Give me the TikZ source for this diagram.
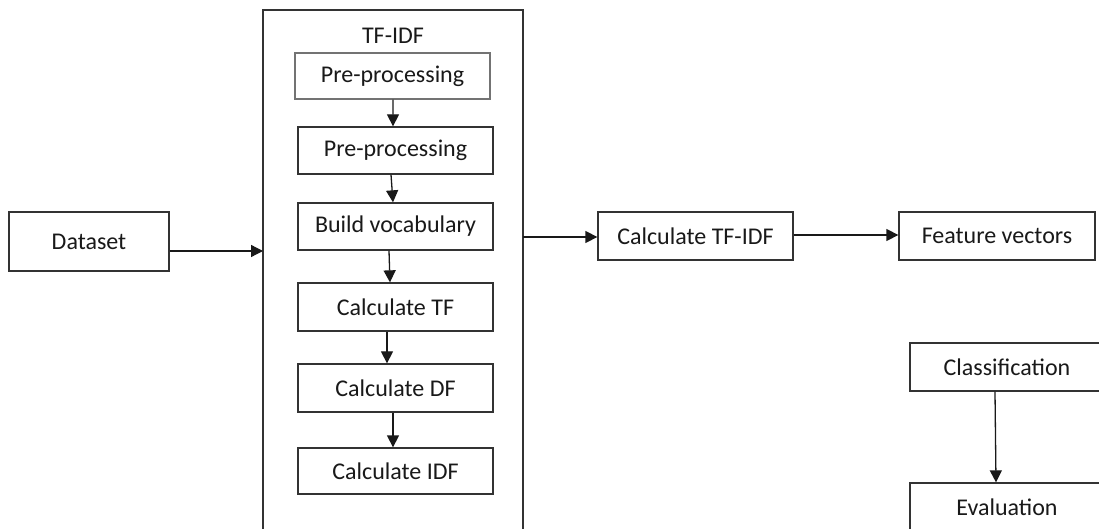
\documentclass[tikz,border=0pt]{standalone}
\usepackage{fontspec}
\setmainfont{Carlito}
\usetikzlibrary{arrows.meta}
\begin{document}
\begin{tikzpicture}[x=1bp,y=-1bp,
  every node/.style={font=\fontsize{24bp}{28bp}\selectfont, text=black!90, inner sep=0pt},
  box/.style={draw=black!80, line width=1.3bp, minimum width=195bp, minimum height=47bp},
  arr/.style={draw=black!90, line width=1.3bp, -{Triangle[length=12bp,width=12bp]}}]
\useasboundingbox (0,0) rectangle (1099,529);
\clip (0,0) rectangle (1099,529);
\fill[white] (0,0) rectangle (1099,529);
% outer TF-IDF frame
\draw[draw=black!80, line width=1.3bp] (263,560) -- (263,10) -- (523,10) -- (523,560);
\coordinate (frameL) at (263,251);
\coordinate (frameR) at (523,237);
\node (title) at (393,36) {TF-IDF};
\node[box, draw=black!55, minimum height=46bp] (pp1) at (392.5,76) {Pre-processing};
\node[box] (pp2) at (395.5,150.5) {Pre-processing};
\node[box] (bv) at (395.5,226.5) {Build vocabulary};
\node[box, minimum height=48bp] (ctf) at (395.5,307) {Calculate TF};
\node[box, minimum height=48bp] (cdf) at (395.5,388) {Calculate DF};
\node[box, minimum height=46bp] (cidf) at (395.5,471) {Calculate IDF};
\node[box, minimum width=160bp, minimum height=59bp] (data) at (89,241.5) {Dataset};
\node[box, minimum height=48bp] (calc) at (695.5,236) {Calculate TF-IDF};
\node[box, minimum width=196bp, minimum height=48bp] (feat) at (997,236) {Feature vectors};
\node[box, minimum width=194bp, minimum height=48bp] (cls) at (1007,367) {Classification};
\node[box, minimum width=194bp, minimum height=48bp] (eval) at (1007,507) {Evaluation};
% arrows
\draw[arr] (data.east |- frameL) -- (frameL);
\draw[arr] (frameR) -- (calc.west |- frameR);
\draw[arr] ([yshift=1bp]calc.east) -- ([yshift=1bp]feat.west);
\draw[arr] ([xshift=-12bp]cls.south) -- ([xshift=-11bp]eval.north);
\draw[arr] ([xshift=0.5bp]pp1.south) -- ([xshift=-2.5bp]pp2.north);
\draw[arr] ([xshift=-4.5bp]pp2.south) -- ([xshift=-2.5bp]bv.north);
\draw[arr] ([xshift=-6.5bp]bv.south) -- ([xshift=-5.5bp]ctf.north);
\draw[arr] ([xshift=-8.5bp]ctf.south) -- ([xshift=-8.5bp]cdf.north);
\draw[arr] ([xshift=-2.5bp]cdf.south) -- ([xshift=-2.5bp]cidf.north);
\end{tikzpicture}
\end{document}
